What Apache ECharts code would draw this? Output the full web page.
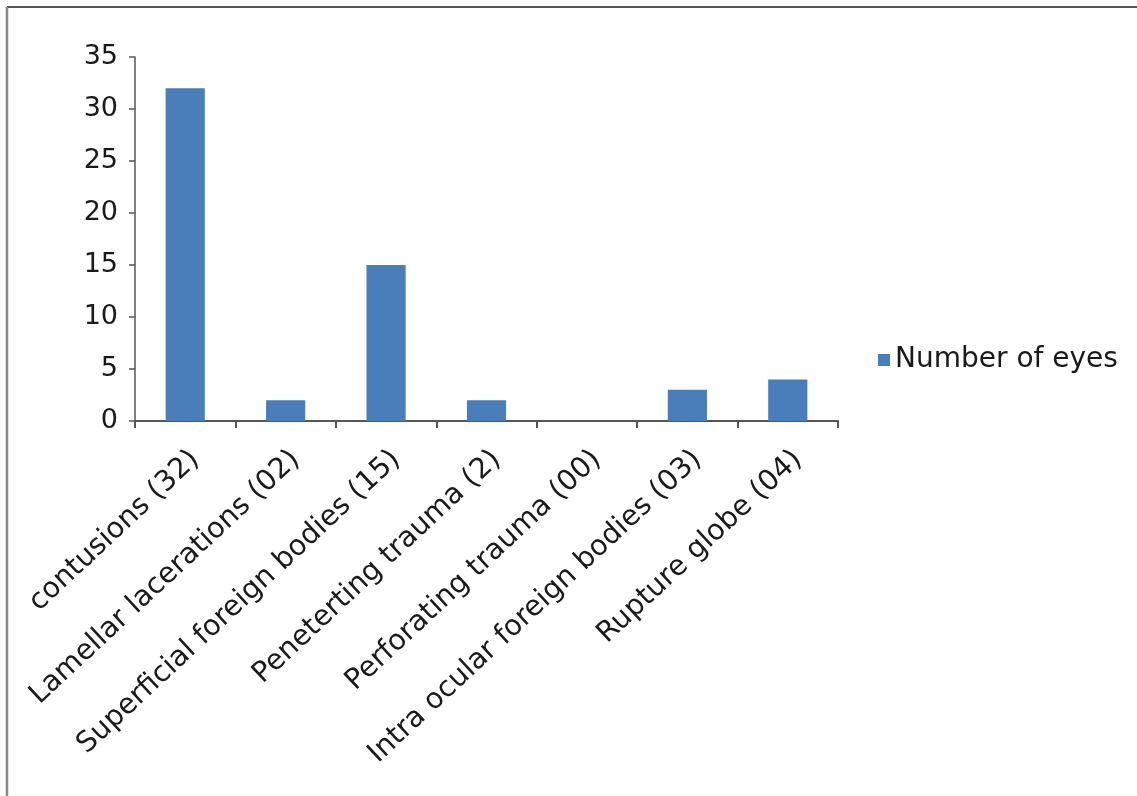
<!DOCTYPE html>
<html>
<head>
<meta charset="utf-8">
<script src="https://cdn.jsdelivr.net/npm/echarts@6/dist/echarts.min.js"></script>
<style>
  html, body { margin: 0; padding: 0; background: #fff; }
  #chart { width: 1137px; height: 796px; }
</style>
</head>
<body>
<div id="chart"></div>
<script>
// Ocular injury types and the number of eyes affected
const categories = [
  'contusions (32)',
  'Lamellar lacerations (02)',
  'Superficial foreign bodies (15)',
  'Peneterting trauma (2)',
  'Perforating trauma (00)',
  'Intra ocular foreign bodies (03)',
  'Rupture globe (04)'
];
const eyes = [32, 2, 15, 2, 0, 3, 4];
const seriesName = 'Number of eyes';
const yTicks = { min: 0, max: 35, interval: 5 };

const chart = echarts.init(document.getElementById('chart'));
const textColor = '#1a1a1a';
const font = '"DejaVu Sans", "Liberation Sans", Arial, sans-serif';

chart.setOption({
  backgroundColor: '#fff',
  animation: false,
  graphic: [
    // thin frame along the top and left edges
    { type: 'line', shape: { x1: 7, y1: 7, x2: 1137, y2: 7 }, style: { stroke: '#555', lineWidth: 2 } },
    { type: 'line', shape: { x1: 7, y1: 7, x2: 7, y2: 796 }, style: { stroke: '#888', lineWidth: 2.5 } }
  ],
  grid: { left: 135, top: 57, width: 703, height: 364, containLabel: false },
  legend: {
    data: [seriesName],
    left: 873,
    top: 341,
    icon: 'rect',
    itemWidth: 12,
    itemHeight: 12,
    itemStyle: { borderWidth: 0 },
    textStyle: { fontSize: 28, color: textColor, fontFamily: font }
  },
  xAxis: {
    type: 'category',
    data: categories,
    axisLine: { lineStyle: { color: '#555', width: 2 } },
    axisTick: { show: true, length: 7, lineStyle: { color: '#555', width: 2 } },
    axisLabel: {
      rotate: 43,
      interval: 0,
      margin: 44,
      padding: [0, -14, 0, 0],
      fontSize: 28.5,
      color: textColor,
      fontFamily: font
    }
  },
  yAxis: {
    type: 'value',
    min: yTicks.min,
    max: yTicks.max,
    interval: yTicks.interval,
    splitLine: { show: false },
    axisLine: { show: true, lineStyle: { color: '#555', width: 1.5 } },
    axisTick: { show: true, length: 6, lineStyle: { color: '#555', width: 1.5 } },
    axisLabel: { fontSize: 27, color: textColor, fontFamily: font, margin: 17 }
  },
  series: [{
    name: seriesName,
    type: 'bar',
    data: eyes,
    barWidth: '39%',
    itemStyle: { color: '#4a7ebb' }
  }]
});
</script>
</body>
</html>
